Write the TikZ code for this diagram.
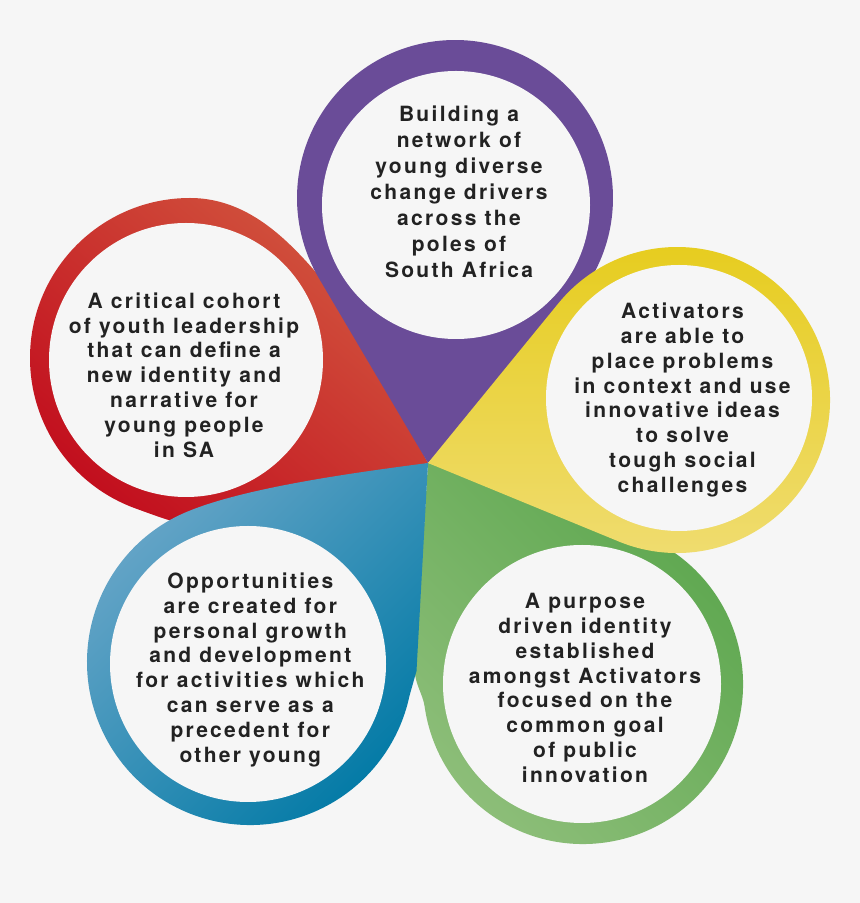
\documentclass[tikz,border=0pt]{standalone}
\usepackage{fontspec}
\newfontfamily\lab[LetterSpace=11]{TeX Gyre Heros}
\usetikzlibrary{calc}
\definecolor{bg}{HTML}{F6F6F6}
\definecolor{txt}{HTML}{222222}
\definecolor{purp}{HTML}{6A4C98}
\definecolor{redA}{HTML}{D2573F}
\definecolor{redB}{HTML}{C20F1E}
\definecolor{yelA}{HTML}{E6CC1C}
\definecolor{yelB}{HTML}{F0DD74}
\definecolor{grnA}{HTML}{5BA64D}
\definecolor{grnB}{HTML}{8DBE79}
\definecolor{bluA}{HTML}{6BA7C9}
\definecolor{bluB}{HTML}{0079A5}
\newcommand\mydrop[4]{%
  \pgfmathsetmacro\mdx{#1-428}%
  \pgfmathsetmacro\mdy{#2-440}%
  \pgfmathsetmacro\mdd{10*veclen(\mdx/10,\mdy/10)}%
  \pgfmathsetmacro\mph{atan2(\mdy,\mdx)}%
  \pgfmathsetmacro\mal{asin(#3/\mdd)}%
  \pgfmathsetmacro\msa{\mph-90-\mal}%
  \pgfmathsetmacro\mea{\mph+90+\mal}%
  \path[#4] (tip) -- ($(#1,#2)+(\msa:#3)$) arc[start angle=\msa, end angle=\mea, radius=#3] -- cycle;}
\tikzset{
  lbl/.style={font=\lab\bfseries\fontsize{21}{24.8}\selectfont, text=txt, align=center, inner sep=0pt},
  hole/.style={fill=bg}
}
\begin{document}
\begin{tikzpicture}[x=1pt,y=1pt]
\fill[bg] (0,0) rectangle (860,903);
\useasboundingbox (0,0) rectangle (860,903);
\coordinate (tip) at (428,440);
% red petal
\path[shading=axis, top color=redA, bottom color=redB, shading angle=-40]
  (tip) -- (340,603) .. controls (306.5,640) and (262,705) .. (190,705)
  arc[start angle=90, end angle=250, radius=160]
  .. controls (158.8,386.1) and (180,378) .. (200,376) -- cycle;
% purple petal
\mydrop{455}{705}{158}{fill=purp}
% green petal
\path[shading=axis, top color=grnA, bottom color=grnB, shading angle=-45]
  (tip) -- (415,232) .. controls (414.6,220) and (422.9,208.6) .. (424.6,196.7)
  arc[start angle=188, end angle=431.39, radius=160] -- cycle;
% blue petal
\path[shading=axis, top color=bluA, bottom color=bluB, shading angle=45]
  (tip) .. controls (348.7,429.6) and (226.5,413.0) .. (173.5,384.9)
  arc[start angle=118, end angle=348, radius=163] -- (416.5,232) -- cycle;
% yellow petal
\mydrop{677}{503}{153}{shading=axis, top color=yelA, bottom color=yelB, shading angle=0}
% inner discs
\fill[hole] (456,698) circle[radius=134];
\fill[hole] (186,543) circle[radius=137];
\fill[hole] (679,505) circle[radius=133];
\fill[hole] (248,239) circle[radius=138];
\fill[hole] (582,219) circle[radius=139];
% texts
\node[lbl, font=\lab\bfseries\fontsize{21}{26}\selectfont] (tpurple) at (459,711.5) {Building a\\network of\\young diverse\\change drivers\\across the\\poles of\\South Africa};
\node[lbl] (tred) at (184,528) {A critical cohort\\of youth leadership\\that can define a\\new identity and\\narrative for\\young people\\in SA};
\node[lbl] (tyellow) at (682.5,503) {Activators\\are able to\\place problems\\in context and use\\innovative ideas\\to solve\\tough social\\challenges};
\node[lbl] (tblue) at (250.3,233.3) {Opportunities\\are created for\\personal growth\\and development\\for activities which\\can serve as a\\precedent for\\other young};
\node[lbl] (tgreen) at (585,215) {A purpose\\driven identity\\established\\amongst Activators\\focused on the\\common goal\\of public\\innovation};
\end{tikzpicture}
\end{document}
